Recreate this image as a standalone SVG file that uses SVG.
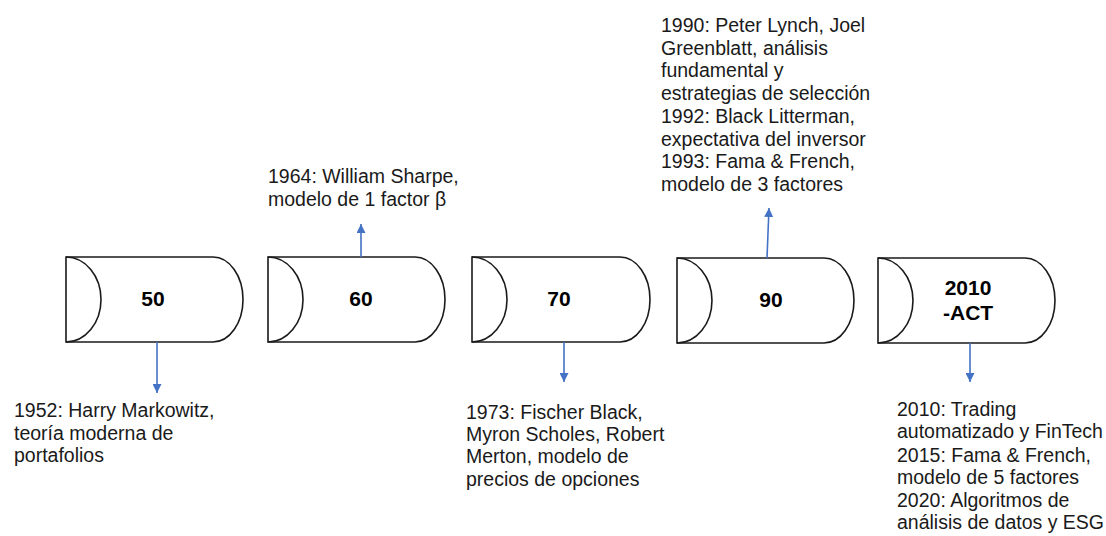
<svg xmlns="http://www.w3.org/2000/svg" width="1106" height="536" viewBox="0 0 1106 536">
<defs>
<style>
.shape{fill:#ffffff;stroke:#1a1a1a;stroke-width:1.6}
.arc{fill:none;stroke:#1a1a1a;stroke-width:1.6}
.lbl{font-family:"Liberation Sans",Arial,sans-serif;font-size:21px;font-weight:bold;fill:#000}
.txt{font-family:"Liberation Sans",Arial,sans-serif;font-size:19.5px;fill:#1a1a1a}
.conn{stroke:#4472C4;stroke-width:1.6;fill:none;marker-end:url(#ah)}
</style>
<marker id="ah" viewBox="0 0 10 10" refX="10" refY="5" markerWidth="9" markerHeight="9" markerUnits="userSpaceOnUse" orient="auto">
<path d="M0,0 L10,5 L0,10 z" fill="#4472C4"/>
</marker>
</defs>
<rect width="1106" height="536" fill="#ffffff"/>

<g id="node-50">
<path class="shape" d="M66 257 H213 A30 42.5 0 0 1 213 342 H66 Z"/>
<path class="arc" d="M66 257 A35 42.5 0 0 1 66 342"/>
<text class="lbl" x="153" y="306" text-anchor="middle">50</text>
</g>
<g id="node-60">
<path class="shape" d="M268 257 H415 A30 42.5 0 0 1 415 342 H268 Z"/>
<path class="arc" d="M268 257 A35 42.5 0 0 1 268 342"/>
<text class="lbl" x="361" y="306" text-anchor="middle">60</text>
</g>
<g id="node-70">
<path class="shape" d="M472 257 H620 A30 42.5 0 0 1 620 342 H472 Z"/>
<path class="arc" d="M472 257 A35 42.5 0 0 1 472 342"/>
<text class="lbl" x="559" y="306" text-anchor="middle">70</text>
</g>
<g id="node-90">
<path class="shape" d="M677 258 H824 A30 42.5 0 0 1 824 343 H677 Z"/>
<path class="arc" d="M677 258 A35 42.5 0 0 1 677 343"/>
<text class="lbl" x="771" y="307" text-anchor="middle">90</text>
</g>
<g id="node-2010">
<path class="shape" d="M878 258 H1025 A30 42.5 0 0 1 1025 343 H878 Z"/>
<path class="arc" d="M878 258 A35 42.5 0 0 1 878 343"/>
<text class="lbl" x="968" y="295" text-anchor="middle">2010</text>
<text class="lbl" x="943" y="320">-ACT</text>
</g>

<g id="connectors">
<line class="conn" x1="157" y1="342" x2="157" y2="393"/>
<line class="conn" x1="361" y1="257" x2="361" y2="224"/>
<line class="conn" x1="564" y1="342" x2="564" y2="382"/>
<line class="conn" x1="767" y1="258" x2="769" y2="208"/>
<line class="conn" x1="970" y1="343" x2="970" y2="382"/>
</g>

<g id="text-50">
<text class="txt" x="14" y="417">1952: Harry Markowitz,</text>
<text class="txt" x="14" y="440">teoría moderna de</text>
<text class="txt" x="14" y="462">portafolios</text>
</g>
<g id="text-60">
<text class="txt" x="268" y="183">1964: William Sharpe,</text>
<text class="txt" x="268" y="206">modelo de 1 factor β</text>
</g>
<g id="text-70">
<text class="txt" x="466" y="419">1973: Fischer Black,</text>
<text class="txt" x="466" y="441">Myron Scholes, Robert</text>
<text class="txt" x="466" y="463">Merton, modelo de</text>
<text class="txt" x="466" y="486">precios de opciones</text>
</g>
<g id="text-90">
<text class="txt" x="661" y="32">1990: Peter Lynch, Joel</text>
<text class="txt" x="661" y="55">Greenblatt, análisis</text>
<text class="txt" x="661" y="77">fundamental y</text>
<text class="txt" x="661" y="100">estrategias de selección</text>
<text class="txt" x="661" y="123">1992: Black Litterman,</text>
<text class="txt" x="661" y="146">expectativa del inversor</text>
<text class="txt" x="661" y="168">1993: Fama &amp; French,</text>
<text class="txt" x="661" y="191">modelo de 3 factores</text>
</g>
<g id="text-2010">
<text class="txt" x="897" y="416">2010: Trading</text>
<text class="txt" x="897" y="438">automatizado y FinTech</text>
<text class="txt" x="897" y="462">2015: Fama &amp; French,</text>
<text class="txt" x="897" y="484">modelo de 5 factores</text>
<text class="txt" x="897" y="507">2020: Algoritmos de</text>
<text class="txt" x="897" y="529">análisis de datos y ESG</text>
</g>
</svg>
